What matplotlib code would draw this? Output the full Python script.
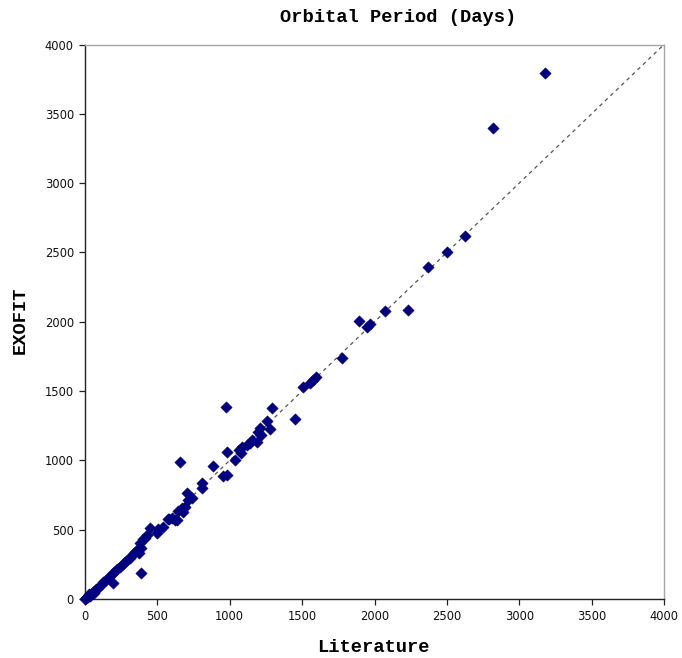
import matplotlib
matplotlib.use("Agg")
import matplotlib.pyplot as plt
import numpy as np

# Orbital periods (days): literature values vs. EXOFIT fits
literature = [
    3, 4, 5, 12, 20, 30, 35, 46, 57, 60, 76, 92, 108, 127, 145, 168, 184, 200,
    223, 242, 260, 276, 292, 311, 329, 345, 357, 375, 387, 380, 398, 415, 426,
    196, 385,
    447, 505, 500, 538, 583, 599, 633, 576, 622, 645, 668, 691, 680, 702, 737,
    714, 656, 806, 810, 887, 956, 983, 983, 1036, 1066, 1078, 1083, 1117, 1140,
    1155, 1190, 1197, 1209, 1214, 1259, 1280, 974, 1292, 1449, 1503, 1556,
    1577, 1596, 1776, 1894, 1948, 1969, 2070, 2234, 2373, 2500, 2625, 2821,
    3175,
]
exofit = [
    3, 4, 5, 17, 12, 34, 20, 41, 53, 40, 70, 81, 101, 120, 137, 161, 178, 197,
    216, 233, 250, 269, 281, 298, 322, 341, 353, 329, 365, 401, 430, 442, 461,
    113, 188,
    509, 505, 475, 517, 577, 582, 569, 574, 569, 634, 653, 665, 625, 766, 730,
    714, 985, 798, 834, 961, 886, 894, 1062, 1002, 1074, 1050, 1093, 1110, 1128,
    1150, 1134, 1206, 1237, 1182, 1286, 1228, 1386, 1376, 1302, 1526, 1561,
    1583, 1598, 1741, 2009, 1960, 1984, 2074, 2083, 2394, 2500, 2616, 3395,
    3796,
]

axis_limits = [0, 4000]
tick_values = [0, 500, 1000, 1500, 2000, 2500, 3000, 3500, 4000]

fig = plt.figure(figsize=(6.82, 6.58), dpi=100)
ax = fig.add_axes([85 / 682, 1 - 599 / 658, 579 / 682, (599 - 44.5) / 658])

# one-to-one reference line
ax.plot(axis_limits, axis_limits, color="#555555", lw=0.9,
        dashes=(3, 3), zorder=1)

ax.scatter(literature, exofit, marker="D", s=34, color="#000080",
           edgecolors="#000080", linewidths=0.3, zorder=3, clip_on=False)

ax.set_xlim(axis_limits)
ax.set_ylim(axis_limits)
ax.set_xticks(tick_values)
ax.set_yticks(tick_values)
ax.tick_params(direction="out", length=4, width=0.9, color="#222222",
               labelsize=8.3, pad=4, labelcolor="#111111")
for lab in ax.get_xticklabels() + ax.get_yticklabels():
    lab.set_family("DejaVu Sans")

ax.spines["left"].set_color("#222222")
ax.spines["bottom"].set_color("#222222")
ax.spines["top"].set_color("#a6a6a6")
ax.spines["right"].set_color("#a6a6a6")
for sp in ax.spines.values():
    sp.set_linewidth(1.0)

mono = dict(family="Liberation Mono", weight="bold", size=13.5)
fig.text(398 / 682, 1 - 18 / 658, "Orbital Period (Days)", ha="center",
         va="center", **mono)
fig.text(373 / 682, 1 - 648 / 658, "Literature", ha="center", va="center",
         **mono)
fig.text(20 / 682, 1 - 320 / 658, "EXOFIT", ha="center", va="center",
         rotation=90, **mono)

fig.savefig("out.png", dpi=100)
